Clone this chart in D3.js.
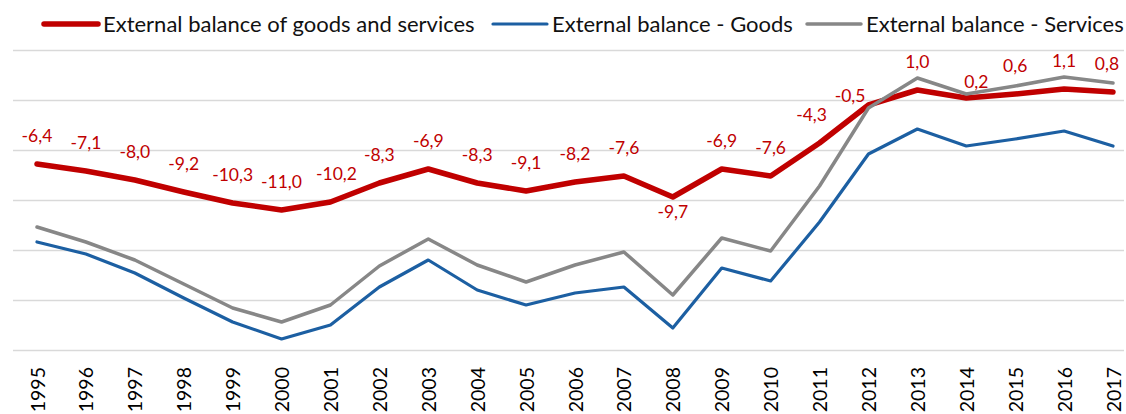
<!DOCTYPE html>
<html>
<head>
<meta charset="utf-8">
<script src="https://cdn.jsdelivr.net/npm/d3@7"></script>
<style>
  body { margin: 0; background: #fff; }
  svg { display: block; font-family: Lato, "Open Sans", sans-serif; }
</style>
</head>
<body>
<svg id="chart"></svg>
<script>
// years on the x axis
const years = d3.range(1995, 2018).map(String);

// series values (% of GDP)
const totalBalance = [-6.4, -7.1, -8.0, -9.2, -10.3, -11.0, -10.2, -8.3, -6.9, -8.3, -9.1, -8.2, -7.6,
  -9.7, -6.9, -7.6, -4.3, -0.5, 1.0, 0.2, 0.6, 1.1, 0.8];
const goodsBalance = [-14.2, -15.4, -17.3, -19.8, -22.2, -23.9, -22.5, -18.7, -16.0, -19.0, -20.5, -19.3, -18.7,
  -22.8, -16.8, -18.1, -12.2, -5.4, -2.9, -4.6, -3.9, -3.1, -4.6];
const servicesBalance = [-12.7, -14.2, -16.0, -18.4, -20.8, -22.2, -20.5, -16.6, -13.9, -16.5, -18.2, -16.5, -15.2,
  -19.5, -13.8, -15.1, -8.6, -0.8, 2.2, 0.6, 1.4, 2.3, 1.7];

const seriesNames = ["External balance of goods and services", "External balance - Goods", "External balance - Services"];

// gridline values
const gridTicks = [-25, -20, -15, -10, -5, 0, 5];

const width = 1126;
const height = 414;

const series = [
  { name: seriesNames[0], values: totalBalance, color: "#C00000", width: 5.5 },
  { name: seriesNames[1], values: goodsBalance, color: "#1C5FA2", width: 3.2 },
  { name: seriesNames[2], values: servicesBalance, color: "#878787", width: 3.5 }
];

const svg = d3.select("#chart")
  .attr("width", width)
  .attr("height", height);

svg.append("rect").attr("width", width).attr("height", height).attr("fill", "#fff");

// scales
const xscale = d3.scalePoint().domain(years).range([37, 1113]);
const yscale = d3.scaleLinear().domain([-25, 5]).range([350, 50]);

// horizontal gridlines
const yaxis = d3.axisLeft(yscale).tickValues(gridTicks).tickSize(-(1124 - 13)).tickFormat("");
svg.append("g")
  .attr("transform", "translate(13,0)")
  .call(yaxis)
  .call(g => g.select(".domain").remove())
  .call(g => g.selectAll(".tick line").attr("stroke", "#D9D9D9").attr("stroke-width", 1.4));

// x axis labels, rotated
const xaxis = d3.axisBottom(xscale).tickSize(0).tickPadding(0);
svg.append("g")
  .attr("transform", "translate(0,367)")
  .call(xaxis)
  .call(g => g.select(".domain").remove())
  .call(g => g.selectAll(".tick text")
    .attr("transform", "rotate(-90)")
    .attr("text-anchor", "end")
    .attr("x", 0)
    .attr("y", 0)
    .attr("dy", "0.36em")
    .attr("fill", "#000")
    .attr("font-size", 19.5)
    .attr("font-family", "Lato, sans-serif"));

// lines
const line = d3.line()
  .x((d, i) => xscale(years[i]))
  .y(d => yscale(d));

svg.append("g")
  .selectAll("path")
  .data(series)
  .join("path")
  .attr("d", d => line(d.values))
  .attr("fill", "none")
  .attr("stroke", d => d.color)
  .attr("stroke-width", d => d.width)
  .attr("stroke-linejoin", "round")
  .attr("stroke-linecap", "round");

// data labels for the total balance
const fmt = v => v.toFixed(1).replace(".", ",");
// manual nudges like in the original chart
const labelNudge = {
  "2001": { dx: 6, dy: 0 },
  "2008": { below: true },
  "2011": { dx: -8, dy: 0 },
  "2012": { left: true },
  "2014": { dx: 10, dy: 12 },
  "2017": { dx: -6, dy: 0 }
};

svg.append("g")
  .selectAll("text")
  .data(totalBalance)
  .join("text")
  .attr("font-size", 17.5)
  .attr("fill", "#C00000")
  .each(function (d, i) {
    const yr = years[i];
    const px = xscale(yr);
    const py = yscale(d);
    const n = labelNudge[yr] || {};
    const t = d3.select(this).text(fmt(d));
    if (n.below) {
      t.attr("x", px).attr("y", py + 21).attr("text-anchor", "middle");
    } else if (n.left) {
      t.attr("x", px - 3).attr("y", py - 3).attr("text-anchor", "end");
    } else {
      t.attr("x", px + (n.dx || 0)).attr("y", py - 22 + (n.dy || 0)).attr("text-anchor", "middle");
    }
  });

// legend
const legendX = [44, 493, 807];
const legend = svg.append("g")
  .selectAll("g")
  .data(series)
  .join("g")
  .attr("transform", (d, i) => `translate(${legendX[i]},24)`);

legend.append("line")
  .attr("x1", 0)
  .attr("x2", 54)
  .attr("stroke", d => d.color)
  .attr("stroke-width", d => d.width)
  .attr("stroke-linecap", "round");

legend.append("text")
  .attr("x", 59)
  .attr("y", 7.5)
  .attr("font-size", 22)
  .attr("fill", "#111")
  .text(d => d.name);
</script>
</body>
</html>
